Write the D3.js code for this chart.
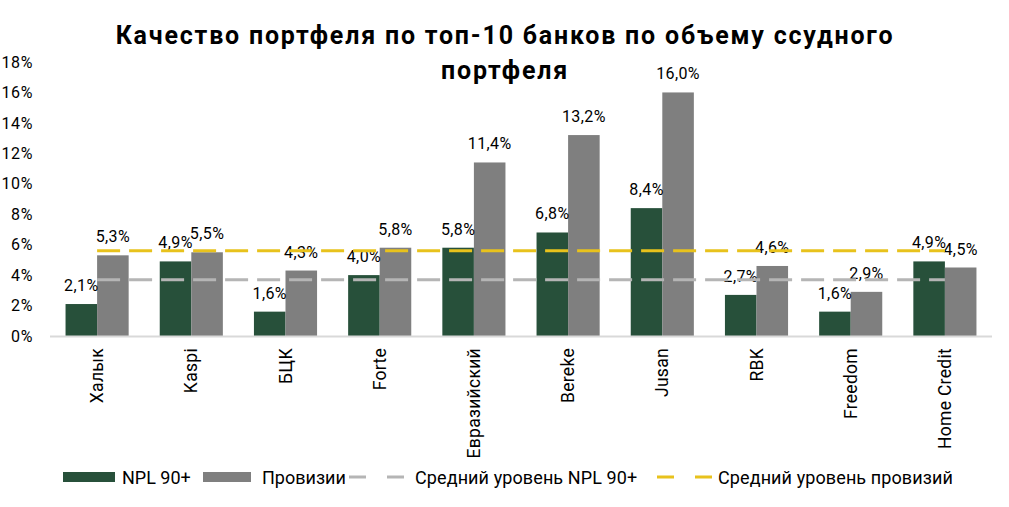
<!DOCTYPE html>
<html><head><meta charset="utf-8">
<script src="https://cdn.jsdelivr.net/npm/d3@7"></script>
<style>
html,body{margin:0;padding:0;background:#fff;}
svg{display:block;font-family:Roboto,"DejaVu Sans",sans-serif;}
</style></head>
<body><svg id="c" width="1009" height="507"></svg>
<script>
const categories = ["Халык","Kaspi","БЦК","Forte","Евразийский","Bereke","Jusan","RBK","Freedom","Home Credit"];
const nplValues = [2.1,4.9,1.6,4.0,5.8,6.8,8.4,2.7,1.6,4.9];
const provValues = [5.3,5.5,4.3,5.8,11.4,13.2,16.0,4.6,2.9,4.5];
const avgNpl = 3.7;
const avgProv = 5.6;
const yTicks = [0,2,4,6,8,10,12,14,16,18];
const seriesNames = ["NPL 90+","Провизии"];
const avgNames = ["Средний уровень NPL 90+","Средний уровень провизий"];
const titleLines = ["Качество портфеля по топ-10 банков по объему ссудного","портфеля"];

const colGreen = "#27503a", colGray = "#7f7f7f", colYellow = "#e8c21c", colAvgGray = "#b5b5b5";
const svg = d3.select("#c");
const fmt = v => d3.format(".1f")(v).replace(".", ",") + "%";

const x0 = d3.scaleBand().domain(categories).range([50, 992]).paddingInner(0.33).paddingOuter(0.165);
const x1 = d3.scaleBand().domain(["npl","prov"]).range([0, x0.bandwidth()]);
const y = d3.scaleLinear().domain([0, 18]).range([336, 62]);

// title
svg.append("g").selectAll("text").data(titleLines).join("text")
  .attr("x", 505).attr("y", (d,i) => i ? 79 : 44)
  .attr("text-anchor","middle").attr("font-weight","bold").attr("font-size", 25)
  .attr("letter-spacing", 1.8)
  .attr("fill","#000").text(d => d);

// y axis
const yAxis = d3.axisLeft(y).tickValues(yTicks).tickFormat(d => d + "%").tickSize(0).tickPadding(0);
const ga = svg.append("g").attr("transform","translate(33,0)").call(yAxis);
ga.select(".domain").remove();
ga.selectAll("text").attr("font-size",16).attr("letter-spacing",0.6).attr("font-family","Roboto,sans-serif").attr("fill","#000");

// bars
const data = categories.map((c,i) => ({c, npl:nplValues[i], prov:provValues[i]}));
const g = svg.append("g");
const grp = g.selectAll("g").data(data).join("g").attr("transform", d => `translate(${x0(d.c)},0)`);
grp.append("rect").attr("x", x1("npl")).attr("width", x1.bandwidth())
  .attr("y", d => y(d.npl)).attr("height", d => y(0) - y(d.npl)).attr("fill", colGreen);
grp.append("rect").attr("x", x1("prov")).attr("width", x1.bandwidth())
  .attr("y", d => y(d.prov)).attr("height", d => y(0) - y(d.prov)).attr("fill", colGray);

// x axis line
svg.append("line").attr("x1",50).attr("x2",992).attr("y1",y(0)+0.5).attr("y2",y(0)+0.5)
  .attr("stroke","#d9d9d9").attr("stroke-width",2);

// average lines
const xs = x0(categories[0]) + x0.bandwidth()/2, xe = x0(categories[categories.length-1]) + x0.bandwidth()/2;
svg.append("line").attr("x1",xs).attr("x2",xe).attr("y1",y(avgNpl)).attr("y2",y(avgNpl))
  .attr("stroke",colAvgGray).attr("stroke-width",3).attr("stroke-dasharray","23,9");
svg.append("line").attr("x1",xs).attr("x2",xe).attr("y1",y(avgProv)).attr("y2",y(avgProv))
  .attr("stroke",colYellow).attr("stroke-width",3).attr("stroke-dasharray","23,9");

// labels
grp.append("text").attr("x", x1("npl") + x1.bandwidth()/2).attr("y", d => y(d.npl) - 13)
  .attr("text-anchor","middle").attr("font-size",16).attr("letter-spacing",0.4).attr("fill","#000").text(d => fmt(d.npl));
grp.append("text").attr("x", x1("prov") + x1.bandwidth()/2).attr("y", d => y(d.prov) - 13)
  .attr("text-anchor","middle").attr("font-size",16).attr("letter-spacing",0.4).attr("fill","#000").text(d => fmt(d.prov));

// category labels
const xAxis = d3.axisBottom(x0).tickSize(0).tickPadding(0);
const gx = svg.append("g").attr("transform", `translate(0,${y(0)})`).call(xAxis);
gx.select(".domain").remove();
gx.selectAll("text").attr("font-size",17.5).attr("letter-spacing",0.3).attr("font-family","Roboto,sans-serif").attr("fill","#000")
  .attr("transform","rotate(-90)").attr("text-anchor","end").attr("dy","0.35em").attr("x",-12).attr("y",0);

// legend
const lg = svg.append("g");
lg.append("rect").attr("x",63).attr("y",472).attr("width",52).attr("height",10).attr("fill",colGreen);
lg.append("text").attr("x",122).attr("y",484).attr("font-size",18).text(seriesNames[0]);
lg.append("rect").attr("x",203).attr("y",472).attr("width",48).attr("height",10).attr("fill",colGray);
lg.append("text").attr("x",262).attr("y",484).attr("font-size",18).text(seriesNames[1]);
lg.append("line").attr("x1",349).attr("x2",405).attr("y1",477).attr("y2",477)
  .attr("stroke",colAvgGray).attr("stroke-width",3).attr("stroke-dasharray","17,21");
lg.append("text").attr("x",415).attr("y",484).attr("font-size",18).attr("letter-spacing",0.1).text(avgNames[0]);
lg.append("line").attr("x1",657).attr("x2",713).attr("y1",477).attr("y2",477)
  .attr("stroke",colYellow).attr("stroke-width",3).attr("stroke-dasharray","17,21");
lg.append("text").attr("x",718).attr("y",484).attr("font-size",18).attr("letter-spacing",0.1).text(avgNames[1]);
</script></body></html>
